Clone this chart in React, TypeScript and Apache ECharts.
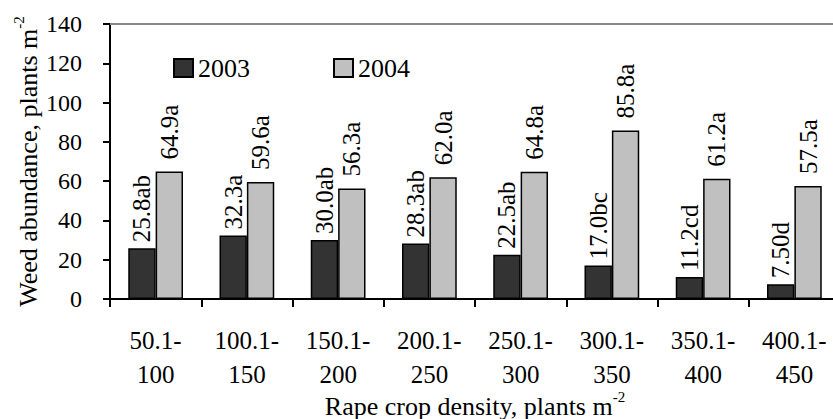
import React, { useEffect, useRef } from "react";
import * as echarts from "echarts";

const categories = [
  "50.1-\n100",
  "100.1-\n150",
  "150.1-\n200",
  "200.1-\n250",
  "250.1-\n300",
  "300.1-\n350",
  "350.1-\n400",
  "400.1-\n450",
];
const values2003 = [25.8, 32.3, 30.0, 28.3, 22.5, 17.0, 11.2, 7.5];
const values2004 = [64.9, 59.6, 56.3, 62.0, 64.8, 85.8, 61.2, 57.5];
const labels2003 = ["25.8ab", "32.3a", "30.0ab", "28.3ab", "22.5ab", "17.0bc", "11.2cd", "7.50d"];
const labels2004 = ["64.9a", "59.6a", "56.3a", "62.0a", "64.8a", "85.8a", "61.2a", "57.5a"];
const seriesNames = ["2003", "2004"];
const yTicks = { min: 0, max: 140, interval: 20 };

const FONT = "Liberation Serif";

export default function App() {
  const ref = useRef<HTMLDivElement>(null);
  useEffect(() => {
    document.body.style.margin = "0";
    const chart = echarts.init(ref.current!, null, { renderer: "svg" });
    const labelStyle = {
      show: true,
      position: "top" as const,
      rotate: 90,
      align: "left" as const,
      verticalAlign: "middle" as const,
      distance: 15,
      fontFamily: FONT,
      fontSize: 25,
      color: "#000",
    };
    chart.setOption({
      animation: false,
      textStyle: { fontFamily: FONT, color: "#000" },
      grid: {
        left: 110,
        right: -7,
        top: 24,
        bottom: 120,
        containLabel: false,
        outerBoundsMode: "none",
      },
      legend: {
        data: seriesNames,
        left: 173,
        top: 55,
        padding: 0,
        itemGap: 83,
        itemWidth: 19,
        itemHeight: 18,
        icon: "rect",
        textStyle: { fontFamily: FONT, fontSize: 26, color: "#000" },
      },
      xAxis: [
        {
          type: "category",
          data: categories,
          axisLine: { lineStyle: { color: "#000", width: 2 } },
          axisTick: { show: true, length: 8, lineStyle: { color: "#000", width: 2 } },
          axisLabel: {
            fontFamily: FONT,
            fontSize: 25,
            color: "#000",
            margin: 24,
            lineHeight: 34,
            interval: 0,
          },
        },
        {
          type: "category",
          position: "top",
          data: categories,
          axisLine: { lineStyle: { color: "#888", width: 2 } },
          axisTick: { show: false },
          axisLabel: { show: false },
        },
      ],
      yAxis: {
        type: "value",
        min: yTicks.min,
        max: yTicks.max,
        interval: yTicks.interval,
        axisLine: { show: true, lineStyle: { color: "#000", width: 2 } },
        axisTick: { show: true, length: 7, lineStyle: { color: "#000", width: 2 } },
        splitLine: { show: false },
        axisLabel: { fontFamily: FONT, fontSize: 24, color: "#000", margin: 28 },
        name: "{a|Weed abundance, plants m}{s|-2}",
        nameLocation: "middle",
        nameGap: 69,
        nameMoveOverlap: false,
        nameTextStyle: {
          fontFamily: FONT,
          color: "#000",
          rich: {
            a: { fontFamily: FONT, fontSize: 26, color: "#000", lineHeight: 30, verticalAlign: "bottom" },
            s: { fontFamily: FONT, fontSize: 15, color: "#000", lineHeight: 30, verticalAlign: "top" },
          },
        },
      },
      graphic: [
        {
          type: "text",
          x: 475,
          y: 404,
          style: {
            text: "{a|Rape crop density, plants m}{s|-2}",
            align: "center",
            verticalAlign: "middle",
            fill: "#000",
            rich: {
              a: { fontFamily: FONT, fontSize: 26, fill: "#000", lineHeight: 30, verticalAlign: "bottom" },
              s: { fontFamily: FONT, fontSize: 15, fill: "#000", lineHeight: 30, verticalAlign: "top" },
            },
          },
        },
      ],
      series: [
        {
          name: seriesNames[0],
          type: "bar",
          data: values2003,
          barGap: "0%",
          barCategoryGap: "40%",
          itemStyle: { color: "#333333", borderColor: "#000", borderWidth: 1.5 },
          label: { ...labelStyle, offset: [-9, 0], formatter: (p: any) => labels2003[p.dataIndex] },
        },
        {
          name: seriesNames[1],
          type: "bar",
          data: values2004,
          barGap: "0%",
          barCategoryGap: "40%",
          itemStyle: { color: "#c0c0c0", borderColor: "#000", borderWidth: 1.5 },
          label: { ...labelStyle, offset: [-3, 0], formatter: (p: any) => labels2004[p.dataIndex] },
        },
      ],
    });
    return () => chart.dispose();
  }, []);
  return <div ref={ref} style={{ width: 833, height: 419 }} />;
}
